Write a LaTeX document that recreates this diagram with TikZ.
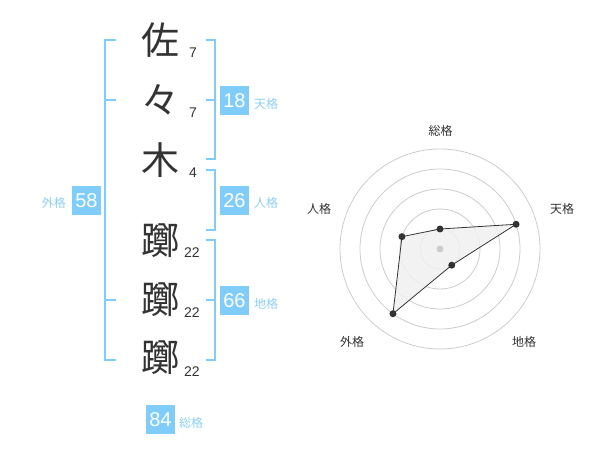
\documentclass[tikz,border=0pt]{standalone}
\usepackage{fontspec}
\setmainfont{Liberation Sans}
\newfontfamily\jp{Noto Sans CJK JP}
\definecolor{kblue}{RGB}{128,204,250}
\definecolor{klabel}{RGB}{140,208,245}
\definecolor{ktext}{RGB}{51,51,51}
\definecolor{kgrid}{RGB}{204,204,204}
\definecolor{kfill}{RGB}{240,240,240}
\begin{document}
\begin{tikzpicture}[x=1pt,y=-1pt,
  kanji/.style={font=\jp\fontsize{38}{38}\selectfont, text=ktext, inner sep=0},
  strokes/.style={font=\fontsize{14}{14}\selectfont, text=ktext, inner sep=0},
  numbox/.style={fill=kblue, text=white, minimum width=29pt, minimum height=29pt, inner sep=0, font=\fontsize{20}{20}\selectfont},
  kaku/.style={text=klabel, font=\jp\fontsize{12}{12}\selectfont, inner sep=0},
  brk/.style={draw=kblue, line width=2pt},
  grid/.style={draw=kgrid, line width=0.8pt},
  axlabel/.style={text=ktext, font=\jp\fontsize{12}{12}\selectfont, inner sep=0},
  pt/.style={circle, fill=ktext, inner sep=0, minimum size=7pt},
]
\useasboundingbox (0,0) rectangle (600,470);
% kanji column
\node[kanji] (k1) at (160,40) {佐};
\node[kanji] (k2) at (160,100) {々};
\node[kanji] (k3) at (160,160) {木};
\node[kanji] (k4) at (160,241) {躑};
\node[kanji] (k5) at (160,300) {躑};
\node[kanji] (k6) at (160,358) {躑};
\node[strokes] (s1) at (193,53) {7};
\node[strokes] (s2) at (193,113) {7};
\node[strokes] (s3) at (193,173) {4};
\node[strokes] (s4) at (192,253) {22};
\node[strokes] (s5) at (192,313) {22};
\node[strokes] (s6) at (192,372) {22};
% brackets
\draw[brk] (116,40) -- (105,40) -- (105,360) -- (116,360);
\draw[brk] (105,100) -- (116,100);
\draw[brk] (105,300) -- (116,300);
\draw[brk] (205.5,40) -- (214.5,40) -- (214.5,159) -- (205.5,159);
\draw[brk] (205.5,100) -- (214.5,100);
\draw[brk] (205.5,170) -- (214.5,170) -- (214.5,230) -- (205.5,230);
\draw[brk] (205.5,240) -- (214.5,240) -- (214.5,360) -- (205.5,360);
\draw[brk] (205.5,300) -- (214.5,300);
% boxes
\node[numbox] (b18) at (234.5,100.5) {18};
\node[kaku, anchor=west] (l18) at (254,104) {天格};
\node[numbox] (b26) at (234.5,200.5) {26};
\node[kaku, anchor=west] (l26) at (254,203) {人格};
\node[numbox] (b66) at (234.5,300.5) {66};
\node[kaku, anchor=west] (l66) at (254,304) {地格};
\node[numbox] (b58) at (86.5,200.5) {58};
\node[kaku, anchor=east] (l58) at (66,203) {外格};
\node[numbox] (b84) at (160.5,419.5) {84};
\node[kaku, anchor=west] (l84) at (179,423) {総格};
% radar chart
\foreach \r in {20,40,60,80,100} \draw[grid] (440,249) circle[radius=\r];
\coordinate (p1) at ({440+20*cos(90)},{249-20*sin(90)});
\coordinate (p2) at ({440+80*cos(18)},{249-80*sin(18)});
\coordinate (p3) at ({440+20*cos(-54)},{249-20*sin(-54)});
\coordinate (p4) at ({440+80*cos(-126)},{249-80*sin(-126)});
\coordinate (p5) at ({440+40*cos(162)},{249-40*sin(162)});
\filldraw[fill=kfill, fill opacity=0.85, draw=ktext, line width=0.8pt] (p1) -- (p2) -- (p3) -- (p4) -- (p5) -- cycle;
\fill[kgrid] (440,249) circle[radius=3.5];
\foreach \p in {p1,p2,p3,p4,p5} \node[pt] at (\p) {};
\node[axlabel] (a1) at (440.5,131) {総格};
\node[axlabel] (a2) at (562,209) {天格};
\node[axlabel] (a3) at (524,342) {地格};
\node[axlabel] (a4) at (352,342) {外格};
\node[axlabel] (a5) at (319,209) {人格};
\end{tikzpicture}
\end{document}
